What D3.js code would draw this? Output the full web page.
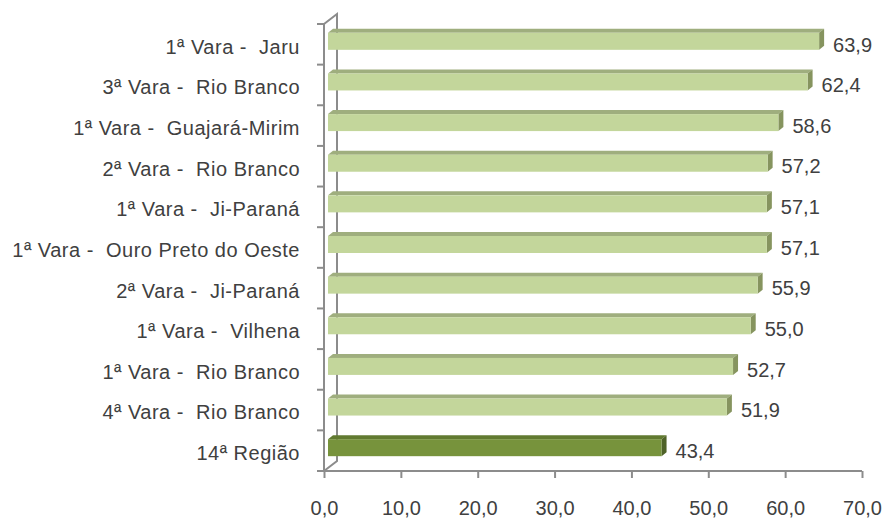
<!DOCTYPE html>
<html>
<head>
<meta charset="utf-8">
<script src="https://cdn.jsdelivr.net/npm/d3@7"></script>
<style>
  html, body { margin: 0; padding: 0; background: #fff; }
  svg text { font-family: "Liberation Sans", Arial, sans-serif; fill: #404040; }
</style>
</head>
<body>
<svg id="chart" width="886" height="520"></svg>
<script>
// Categories (top to bottom) and their values
const categories = [
  "1ª Vara -  Jaru",
  "3ª Vara -  Rio Branco",
  "1ª Vara -  Guajará-Mirim",
  "2ª Vara -  Rio Branco",
  "1ª Vara -  Ji-Paraná",
  "1ª Vara -  Ouro Preto do Oeste",
  "2ª Vara -  Ji-Paraná",
  "1ª Vara -  Vilhena",
  "1ª Vara -  Rio Branco",
  "4ª Vara -  Rio Branco",
  "14ª Região"
];
const values = [63.9, 62.4, 58.6, 57.2, 57.1, 57.1, 55.9, 55.0, 52.7, 51.9, 43.4];
const highlighted = ["14ª Região"];
const xTicks = [0, 10, 20, 30, 40, 50, 60, 70];

const data = categories.map((c, i) => ({ cat: c, value: values[i] }));
const fmt = v => d3.format(".1f")(v).replace(".", ",");

const svg = d3.select("#chart");
const x = d3.scaleLinear().domain([0, 70]).range([324, 862]);
const y = d3.scaleBand().domain(categories).range([24, 471]);

const axisColor = "#8c8c8c";
const fontSize = 20;
const wall = { dx: 13, dy: -10 };   // depth of the back wall
const barOff = { dx: 4, dy: -3 };   // bar front-face offset from front plane
const barDepth = { dx: 5, dy: -4 };
const barH = 17;

// Back wall outline
const g = svg.append("g");
g.append("path")
  .attr("d", `M${x(0)},${y.range()[0]} L${x(0) + wall.dx},${y.range()[0] + wall.dy}
              L${x(0) + wall.dx},${y.range()[1] + wall.dy} L${x(0)},${y.range()[1]}`)
  .attr("fill", "none").attr("stroke", axisColor).attr("stroke-width", 2);

// Bars (3D: front, top, side faces)
const palette = {
  normal: { front: "#c3d69b", top: "#9fae7e", side: "#86945f" },
  dark:   { front: "#77933c", top: "#617a30", side: "#4f6228" }
};
const bars = g.selectAll(".bar").data(data).enter().append("g").attr("class", "bar");
bars.each(function(d) {
  const p = highlighted.includes(d.cat) ? palette.dark : palette.normal;
  const x0 = x(0) + barOff.dx, x1 = x(d.value) + barOff.dx;
  const yc = y(d.cat) + y.bandwidth() / 2 + barOff.dy;
  const y0 = yc - barH / 2, y1 = yc + barH / 2;
  const s = d3.select(this);
  s.append("path")
    .attr("d", `M${x0},${y0} L${x0 + barDepth.dx},${y0 + barDepth.dy} L${x1 + barDepth.dx},${y0 + barDepth.dy} L${x1},${y0} Z`)
    .attr("fill", p.top);
  s.append("path")
    .attr("d", `M${x1},${y0} L${x1 + barDepth.dx},${y0 + barDepth.dy} L${x1 + barDepth.dx},${y1 + barDepth.dy} L${x1},${y1} Z`)
    .attr("fill", p.side);
  s.append("rect")
    .attr("x", x0).attr("y", y0).attr("width", x1 - x0).attr("height", barH)
    .attr("fill", p.front);
  s.append("text")
    .attr("x", x1 + barDepth.dx + 9)
    .attr("y", y(d.cat) + y.bandwidth() / 2)
    .attr("dy", "0.36em")
    .attr("font-size", fontSize)
    .text(fmt(d.value));
});

// X axis
const xAxis = g.append("g")
  .attr("transform", `translate(0,${y.range()[1]})`)
  .call(d3.axisBottom(x).tickValues(xTicks).tickFormat(fmt).tickSize(7).tickPadding(23));
xAxis.select(".domain").attr("stroke", axisColor).attr("stroke-width", 2)
  .attr("d", `M${x(0)},0H${x(70)}`);
xAxis.selectAll(".tick line").attr("stroke", axisColor).attr("stroke-width", 2);
xAxis.selectAll(".tick text").attr("font-size", fontSize).attr("font-family", null).attr("fill", null);

// Y axis: labels at band centres, ticks at band boundaries
const yAxis = g.append("g")
  .attr("transform", `translate(${x(0)},0)`)
  .call(d3.axisLeft(y).tickSize(0).tickPadding(24));
yAxis.select(".domain").attr("stroke", axisColor).attr("stroke-width", 2)
  .attr("d", `M0,${y.range()[0]}V${y.range()[1]}`);
yAxis.selectAll(".tick text").attr("font-size", fontSize).attr("font-family", null)
  .attr("fill", null).attr("dy", "0.47em")
  .style("white-space", "pre").style("letter-spacing", "0.5px");
const bounds = categories.map(c => y(c)).concat([y.range()[1]]);
yAxis.selectAll(".bound").data(bounds).enter().append("line")
  .attr("x1", -7).attr("x2", 0).attr("y1", d => d).attr("y2", d => d)
  .attr("stroke", axisColor).attr("stroke-width", 2);
</script>
</body>
</html>
